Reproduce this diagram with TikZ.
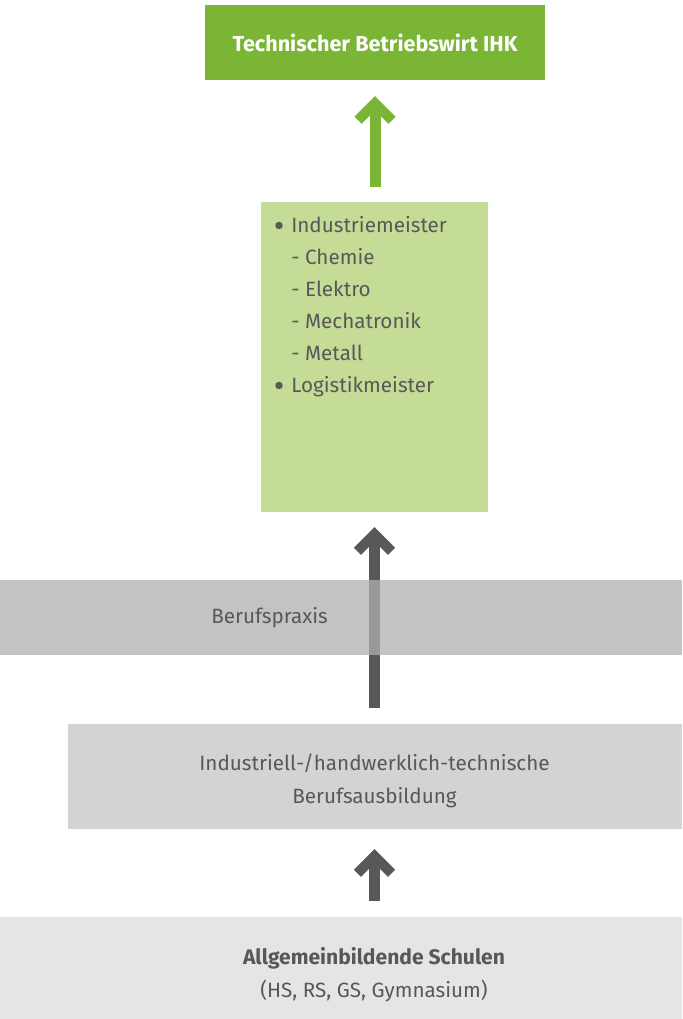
\documentclass[tikz,border=0pt]{standalone}
\usepackage{fontspec}
\setmainfont{Fira Sans}
\usetikzlibrary{positioning}
\definecolor{ihkgreen}{HTML}{7AB536}
\definecolor{lightgreen}{HTML}{C5DC97}
\definecolor{textgray}{HTML}{58585A}
\definecolor{arrowgray}{HTML}{58585A}
\definecolor{praxisgray}{HTML}{B0AEB2}
\definecolor{ausbgray}{HTML}{D4D3D4}
\definecolor{schulgray}{HTML}{E6E5E6}
% shaft from #2 up to the tip #3, chevron head on top
\newcommand\uparrowto[3]{%
  \draw[line width=8.25pt, #1] (#2) -- (#3);
  \draw[line width=7.5pt, line join=miter, #1] ([shift={(-17,-17)}]#3) -- (#3) -- ([shift={(17,-17)}]#3);}
\begin{document}
\begin{tikzpicture}[x=0.75pt, y=0.75pt,
    every node/.style={font=\fontsize{15.5}{24}\selectfont, text=textgray, inner sep=0pt},
    band/.style={minimum width=511.5pt, anchor=center},
    listdot/.style={circle, fill=textgray, minimum size=5.6pt}]
\useasboundingbox (0,0) rectangle (682,1019);
\node[fill=ihkgreen, minimum width=255pt, minimum height=56.25pt, text=white, font=\fontsize{16.2}{24}\selectfont\bfseries] (ihk) at (375,976.5) {Technischer Betriebswirt IHK};
\node[fill=lightgreen, minimum width=170.25pt, minimum height=232.5pt] (meister) at (374.5,662) {};
\node[fill=ausbgray, minimum width=460.5pt, minimum height=78.75pt] (ausbildung) at (375,242.5) {};
\node[align=center, font=\fontsize{15.5}{24.75}\selectfont] (ausbtext) at (374.5,238.5) {Industriell-/handwerklich-technische\\Berufsausbildung};
\node[fill=schulgray, band, minimum height=76.5pt] (schule) at (341,51) {};
\node[align=center, font=\fontsize{15.5}{24.75}\selectfont] (schultext) at (374,44) {{\fontsize{15.8}{24.75}\selectfont\bfseries Allgemeinbildende Schulen}\\(HS, RS, GS, Gymnasium)};
% list in the green box
\node[anchor=base west] (indm) at (291,786) {Industriemeister};
\node[anchor=base west] (chem) at (291,754) {- Chemie};
\node[anchor=base west] (elek) at (291,722) {- Elektro};
\node[anchor=base west] (mech) at (291,690) {- Mechatronik};
\node[anchor=base west] (meta) at (291,658) {- Metall};
\node[anchor=base west] (logm) at (291,626) {Logistikmeister};
\node[listdot] at (279,793.5) {};
\node[listdot] at (279,633.5) {};
% arrows
\coordinate (gtip) at ([shift={(0,-23)}]ihk.south);
\coordinate (gfoot) at (gtip |- meister.north);
\coordinate (gbase) at ([shift={(0,15)}]gfoot);
\uparrowto{ihkgreen}{gbase}{gtip}
\coordinate (atip) at ([shift={(0,-22)}]meister.south);
\coordinate (afoot) at (atip |- ausbildung.north);
\coordinate (abase) at ([shift={(0,16)}]afoot);
\uparrowto{arrowgray}{abase}{atip}
\coordinate (stip) at ([shift={(0,-27)}]meister.south |- ausbildung.south);
\coordinate (sfoot) at (stip |- schule.north);
\coordinate (sbase) at ([shift={(0,16)}]sfoot);
\uparrowto{arrowgray}{sbase}{stip}
% Berufspraxis band over the arrow
\node[fill=praxisgray, fill opacity=0.75, band, minimum height=56.25pt] (praxis) at (341,401.5) {};
\node[anchor=west] (praxistext) at (211,401) {Berufspraxis};
\end{tikzpicture}
\end{document}
